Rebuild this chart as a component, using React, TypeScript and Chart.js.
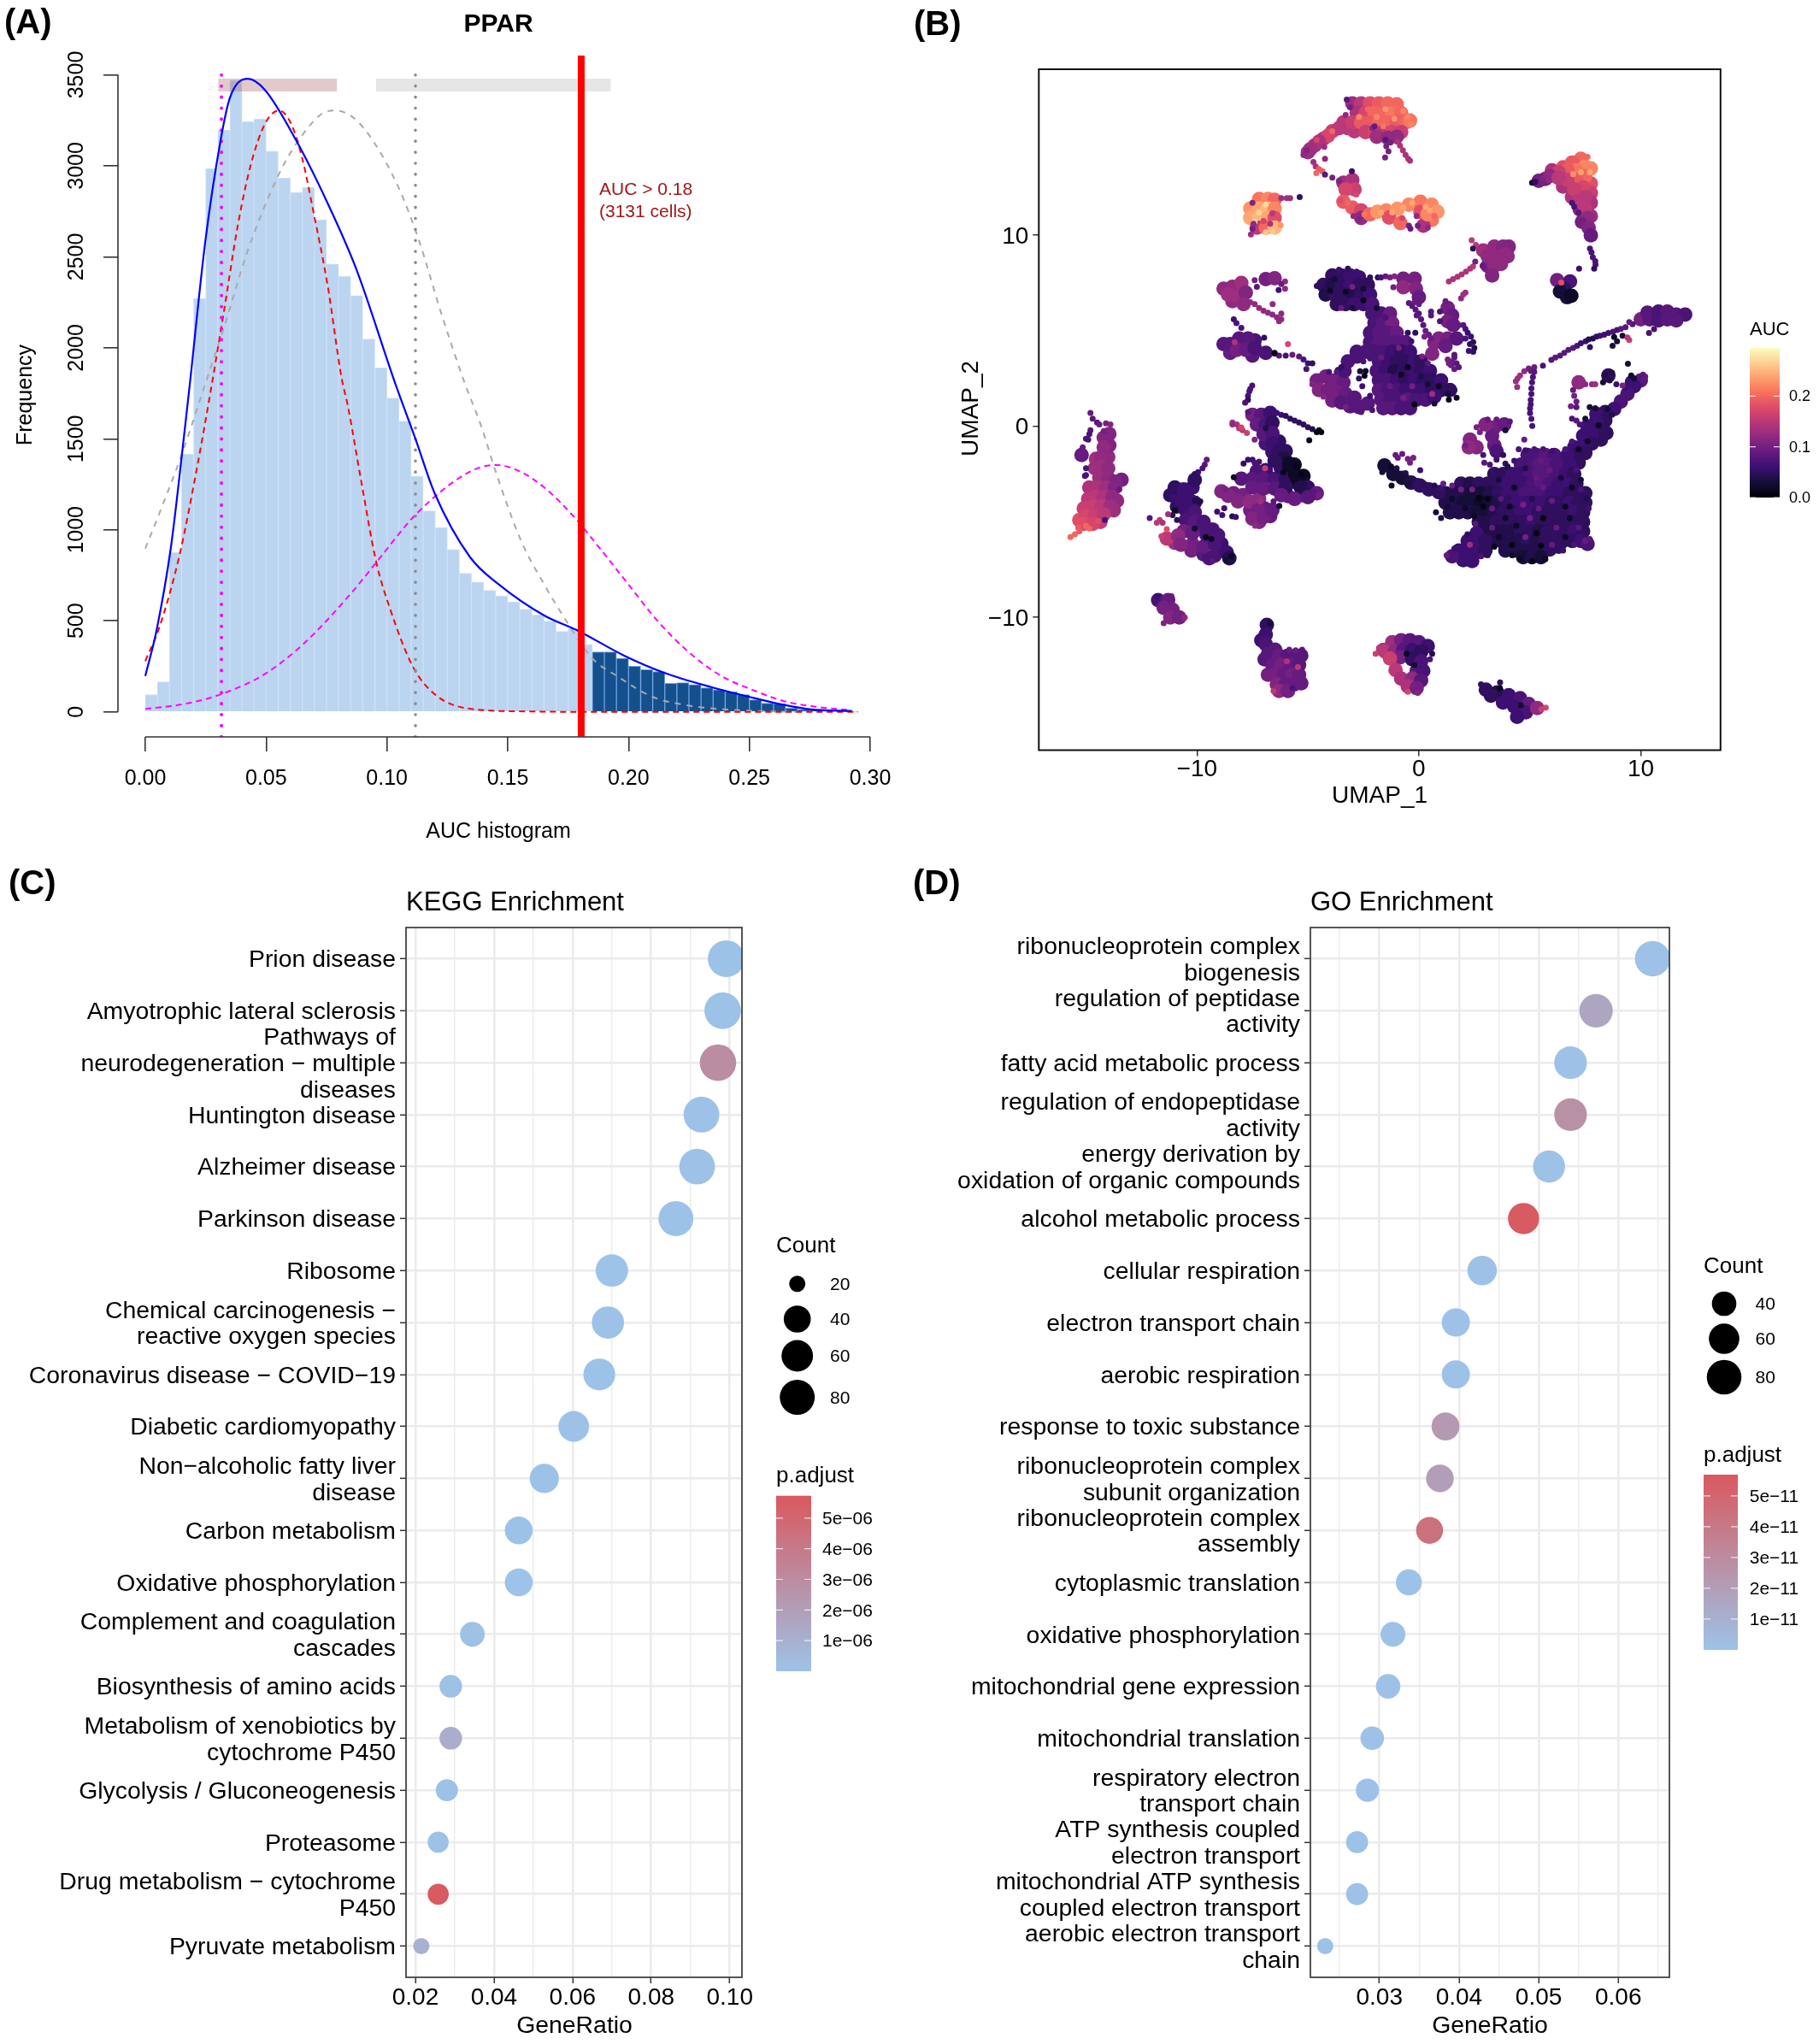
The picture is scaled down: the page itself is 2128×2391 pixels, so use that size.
import React, { useEffect, useRef } from 'react';
import { Chart, registerables } from 'chart.js';

Chart.register(...registerables);

const FONT = '"Liberation Sans", Arial, sans-serif';

// (A) histogram
const histBins = [0.0025,0.0075,0.0125,0.0175,0.0225,0.0275,0.0325,0.0375,0.0425,0.0475,0.0525,0.0575,0.0625,0.0675,0.0725,0.0775,0.0825,0.0875,0.0925,0.0975,0.1025,0.1075,0.1125,0.1175,0.1225,0.1275,0.1325,0.1375,0.1425,0.1475,0.1525,0.1575,0.1625,0.1675,0.1725,0.1775,0.1825,0.1875,0.1925,0.1975,0.2025,0.2075,0.2125,0.2175,0.2225,0.2275,0.2325,0.2375,0.2425,0.2475,0.2525,0.2575,0.2625,0.2675,0.2725,0.2775,0.2825,0.2875,0.2925];
const histCounts = [95,165,875,1415,2270,2985,3195,3470,3243,3257,3081,2932,2854,2881,2704,2460,2392,2287,2048,1890,1724,1597,1295,1104,1013,892,761,713,667,636,604,564,533,498,442,459,370,329,329,294,251,232,221,157,160,150,132,121,110,94,66,47,44,20,14,9,7,5,3];
const histXTicks = [0, 0.05, 0.1, 0.15, 0.2, 0.25, 0.3];
const histYTicks = [0, 500, 1000, 1500, 2000, 2500, 3000, 3500];

const blueX = [0,0.0047,0.0106,0.0153,0.0184,0.0248,0.0312,0.0351,0.0424,0.0495,0.0623,0.0753,0.0871,0.1036,0.1118,0.1197,0.1344,0.1462,0.1651,0.1792,0.198,0.2145,0.2345,0.2498,0.264,0.2757,0.2924];
const blueY = [197,451,905,1430,1798,2581,3143,3377,3478,3417,3143,2799,2440,1798,1500,1202,850,701,529,445,310,216,135,83,39,13,5];
const redX = [0,0.0059,0.0141,0.0212,0.0271,0.0324,0.0383,0.0436,0.0495,0.0554,0.0601,0.0648,0.0695,0.0754,0.0813,0.0837,0.0896,0.0955,0.1014,0.1108,0.1202,0.1344,0.16,0.18,0.295];
const redY = [279,468,858,1328,1766,2189,2674,3003,3230,3304,3238,3050,2752,2347,1830,1689,1249,827,562,247,92,17,2,0,0];
const grayX = [0,0.0059,0.0153,0.0247,0.0329,0.0424,0.0554,0.0636,0.073,0.0783,0.086,0.0943,0.1049,0.1131,0.1225,0.132,0.1392,0.145,0.1556,0.165,0.1743,0.185,0.1957,0.2098,0.224,0.2405,0.2523,0.27];
const grayY = [897,1093,1422,1798,2127,2534,2957,3143,3285,3304,3266,3136,2878,2596,2189,1813,1563,1320,937,702,498,294,193,83,36,13,5,0];
const magentaX = [0,0.0165,0.0318,0.0495,0.066,0.0849,0.0955,0.112,0.1344,0.145,0.1544,0.165,0.1786,0.1839,0.198,0.2121,0.2251,0.238,0.2522,0.264,0.2758,0.2923];
const magentaY = [16,44,99,208,380,647,819,1085,1320,1356,1325,1234,1054,968,733,498,326,200,116,60,31,9];

const xy = (xs: number[], ys: number[]) => xs.map((x, i) => ({ x, y: ys[i] }));

// (B) UMAP, [umap1, umap2, auc]
const coreTop = [[-3,16.9,.13],[-2.6,16.9,.15],[-2.2,16.9,.18],[-1.8,16.9,.19],[-1.4,16.9,.2],[-1,16.85,.2],[-2.8,16.4,.14],[-2.4,16.4,.17],[-2,16.4,.2],[-1.6,16.4,.2],[-1.2,16.4,.21],[-.8,16.4,.2],[-3.4,15.9,.15],[-3,15.9,.16],[-2.6,15.9,.19],[-2.2,15.9,.19],[-1.8,15.9,.2],[-1.4,15.9,.2],[-1,15.9,.19],[-.6,15.9,.2],[-.4,16,.21],[-2.4,15.4,.16],[-2,15.4,.17],[-1.6,15.4,.15],[-1.2,15.4,.17],[-.8,15.4,.16],[-1.9,15.15,.13],[-1.4,15.1,.12],[-1,15.15,.12],[-3.6,15.6,.15],[-4.1,15.2,.17],[-4.5,14.9,.14],[-4.9,14.5,.13],[-3.4,12.75,.13],[-3,12.9,.14],[-2.9,12.4,.16],[-3.3,12.4,.17],[-3.4,11.75,.19],[-3,11.45,.19],[-2.6,11.3,.17],[-2.6,10.9,.12],[-2.2,11.1,.2],[-1.87,11.23,.23],[-1.47,11.3,.22],[-.96,11.38,.23],[-.45,11.6,.22],[.07,11.75,.21],[.58,11.6,.22],[.84,11.23,.23],[.58,10.8,.21],[.2,10.5,.14],[.07,11.23,.18],[.39,11.1,.22],[-1.34,10.93,.18],[-.83,10.64,.2]];
const cellsTop = [[-3.25,17.1,.08],[-3.1,16.7,.1],[-3.3,16.3,.12],[-2.3,16.6,.2],[-1.9,16.2,.22],[-1.5,16.6,.23],[-1.1,16.1,.23],[-1.6,15.7,.21],[-2.1,15.6,.12],[-.7,16.5,.22],[-.5,16.2,.22],[-.35,15.8,.22],[-1.5,15,.08],[-2,15.7,.09],[-2.7,16.2,.22],[-.97,14.9,.14],[-.85,14.7,.14],[-.72,14.45,.14],[-.6,14.2,.14],[-.48,14,.14],[-.4,13.9,.14],[-1.28,14.85,.1],[-1.47,14.66,.1],[-1.37,14.4,.1],[-1.52,14.07,.1],[-5.2,14.2,.12],[-5.05,14.45,.11],[-4.6,15,.17],[-3.9,15.45,.2],[-4.75,13.84,.13],[-4.65,13.6,.14],[-4.5,13.47,.19],[-4.62,13.25,.2],[-4.35,13.35,.19],[-4.23,13.17,.08],[-4.23,14,.12],[-4.26,14.63,.13],[-3.9,13.02,.1],[-3.6,12.85,.11],[-3.02,13.35,.06],[-2.82,12.13,.17],[-3.53,11.83,.18],[-3.2,11.7,.2],[-2.95,11,.12],[-2.7,10.86,.11],[-2.45,11.1,.21],[-1.7,11.2,.24],[-1.2,11.2,.24],[-.7,11.45,.24],[-.3,11.7,.24],[.3,11.5,.24],[.5,11.3,.24],[-.45,10.5,.1],[-.38,10.34,.09],[-.05,10.5,.1],[.4,10.4,.12],[.7,11,.2],[-.1,11,.12],[-.75,10.9,.17]];
const coreYellow = [[-7.2,11.9,.21],[-6.8,11.9,.22],[-6.5,11.85,.2],[-7.6,11.4,.23],[-7.2,11.4,.24],[-6.8,11.4,.25],[-6.5,11.4,.22],[-7.6,10.9,.24],[-7.2,10.9,.25],[-6.8,10.9,.24],[-6.5,10.9,.18],[-7.3,10.4,.15],[-6.9,10.4,.2],[-6.5,10.4,.25]];
const cellsYellow = [[-6.2,11.95,.13],[-5.95,11.95,.13],[-5.8,11.95,.13],[-5.37,12,.05],[-6.23,10.52,.23],[-7.57,10.04,.13],[-7.5,10.34,.1],[-7.5,11.7,.11],[-7.2,11.2,.27],[-6.9,11.6,.27],[-7.4,10.7,.27],[-7,10.75,.17],[-6.6,11.15,.15],[-6.7,10.6,.14],[-7.45,10.6,.12],[-6.6,10.2,.26],[-6.9,10.15,.26]];
const coreTriangle = [[7.3,14,.2],[6.9,13.8,.19],[7.5,13.6,.22],[7.1,13.4,.21],[6.7,13.4,.19],[6.3,13.3,.16],[5.9,13.1,.12],[7.5,13.1,.2],[7.1,12.9,.19],[6.7,12.9,.16],[5.4,12.85,.1],[7.4,12.5,.17],[7,12.4,.16],[7.5,12,.15],[7.2,11.8,.15],[7.5,11.4,.15],[7.6,10.9,.12],[7.65,10.4,.11],[7.75,10,.09],[6.3,13,.15]];
const cellsTriangle = [[5.1,12.75,.03],[5.25,12.8,.05],[5.6,13,.11],[6.9,11.7,.07],[7,11.5,.07],[7.2,11.2,.08],[7.4,10.8,.1],[7.6,14.1,.2],[7.7,13.3,.24],[7.3,13.3,.24],[6.95,13.2,.23],[7.71,9.3,.07],[7.84,8.85,.07],[7.78,9.1,.07],[7.96,8.47,.07],[7.9,8.25,.05],[7.95,8.65,.07],[7.22,8.25,.06]];
const coreSmall = [[6.23,7.65,.1],[6.81,7.58,.07],[6.55,7.2,.05],[6.36,7.06,.03],[6.68,6.76,.03],[6.87,6.83,.02]];
const cellsSmall = [[6.42,7.53,.18]];
const coreMidRight = [[3.4,9.4,.12],[3.8,9.4,.11],[3.1,8.9,.12],[3.5,8.9,.12],[3.9,9,.12],[3.4,8.4,.12],[3.3,7.9,.11]];
const cellsMidRight = [[2.38,9.74,.15],[2.57,9.5,.15],[2.76,9.3,.13],[2.44,9.3,.05],[1.35,7.58,.14],[1.54,7.7,.14],[1.74,7.83,.14],[1.93,7.95,.14],[2.12,8.1,.14],[2.31,8.25,.14],[2.44,8.37,.15],[2.54,8.62,.1],[2.87,8.4,.09]];
const coreLeftC = [[-8.4,7.3,.12],[-8,7.5,.13],[-8.6,6.9,.13],[-8.2,6.8,.13],[-7.8,7,.11],[-7.9,6.4,.12],[-6.9,7.7,.1],[-6.5,7.75,.11]];
const cellsLeftC = [[-7.4,7.65,.1],[-7.3,7.3,.08],[-6.03,7.58,.12],[-6.03,7.2,.12],[-6.32,7.13,.06],[-7.6,6.5,.12],[-7.4,6.4,.12],[-7.2,6.2,.12],[-7,6.05,.12],[-6.8,5.95,.12],[-6.6,5.85,.12],[-6.4,5.7,.12],[-6.2,5.9,.12],[-6.2,5.6,.12],[-6.3,5.5,.12],[-6.59,6.4,.12],[-6.2,7.45,.09]];
const coreLeftBlob = [[-8.5,4.3,.08],[-8.1,4.6,.08],[-7.7,4.6,.08],[-8.2,4,.1],[-7.8,4,.09],[-7.4,4.1,.07],[-6.9,3.85,.07]];
const cellsLeftBlob = [[-6.5,3.8,.07],[-6.3,3.7,.08],[-6,3.7,.07],[-5.7,3.75,.09],[-5.4,3.65,.08],[-5.2,3.5,.07],[-5,3.3,.06],[-4.8,3.3,.05],[-8.34,5.6,.06],[-8.22,5.4,.07],[-8,5.16,.07],[-6.97,4.64,.05],[-6.5,3.85,.01],[-5.9,4.3,.17],[-5.07,3,.07],[-8.3,4.4,.14]];
const coreMiddle = [[-3.9,7.9,.05],[-3.5,7.9,.05],[-3.1,7.9,.06],[-2.7,7.8,.06],[-4.3,7.4,.05],[-3.9,7.4,.04],[-3.5,7.4,.05],[-3.1,7.4,.06],[-2.7,7.4,.05],[-2.3,7.4,.05],[-4.2,6.9,.04],[-3.8,6.9,.05],[-3.4,6.9,.05],[-3,6.9,.04],[-2.6,6.9,.05],[-2.2,6.9,.06],[-3.7,6.4,.05],[-3.3,6.4,.05],[-2.9,6.4,.06],[-2.5,6.4,.06],[-2.1,6.4,.07],[-2.1,5.9,.07],[-1.7,5.9,.07],[-1.3,5.9,.09],[-2,5.4,.07],[-1.6,5.4,.08],[-1.2,5.4,.1],[-2.2,4.9,.07],[-1.8,4.9,.08],[-1.4,4.9,.08],[-1,4.9,.09],[-2.2,4.4,.07],[-1.8,4.4,.08],[-1.4,4.4,.08],[-1,4.4,.08],[-.6,4.4,.08],[-2.8,3.9,.07],[-2.4,3.9,.07],[-2,3.9,.07],[-1.6,3.9,.07],[-1.2,3.9,.06],[-.8,3.9,.05],[-.4,3.9,.06],[-3.2,3.4,.07],[-2.8,3.65,.07],[-1.8,3.4,.07],[-1.4,3.4,.06],[-1,3.4,.05],[-.6,3.4,.05],[-.2,3.4,.06],[.1,3.4,.05],[-1.9,2.9,.07],[-1.5,2.9,.06],[-1.1,2.9,.04],[-.7,2.9,.05],[-.3,2.9,.06],[.1,2.9,.05],[.5,2.9,.06],[-1.8,2.4,.07],[-1.4,2.4,.07],[-1,2.4,.06],[-.6,2.4,.05],[-.2,2.4,.06],[.2,2.4,.05],[.6,2.4,.05],[1,2.4,.06],[-1.8,1.9,.08],[-1.4,1.9,.07],[-1,1.9,.07],[-.6,1.9,.06],[-.2,1.9,.06],[.2,1.9,.06],[.6,1.9,.05],[1,1.9,.05],[1.4,1.9,.05],[-1.7,1.4,.08],[-1.3,1.4,.07],[-.9,1.4,.07],[-.5,1.4,.08],[-.1,1.4,.07],[.3,1.4,.07],[.7,1.55,.06],[-1.6,.95,.08],[-1.2,.95,.08],[-.8,.95,.07],[-.4,.95,.07],[-4.6,2.4,.1],[-4.2,2.6,.1],[-3.8,2.4,.1],[-3.4,2.3,.09],[-4.5,1.9,.11],[-4.1,1.9,.1],[-3.7,1.8,.1],[-3.3,1.7,.09],[-2.9,1.5,.08],[-3.9,1.35,.1],[-3.5,1.25,.08],[-3.1,1.05,.08],[-2.7,1,.08],[-2.3,1.2,.08],[-3.35,2.9,.07]];
const cellsMiddle = [[-3.6,8.2,.06],[-3.2,8.25,.05],[-2.8,8.1,.06],[-4.6,7.35,.05],[-4,7.1,.02],[-3.3,7.05,.02],[-2.5,6.6,.01],[-3,6.2,.03],[-3.5,6.2,.09],[-2.2,7.8,.05],[-1.85,7.8,.05],[-1.9,6.2,.03],[-1.5,5.7,.07],[-.9,4.1,.1],[-1.7,3.6,.09],[-.5,3.1,.01],[-.8,2.7,.02],[.1,2.6,.04],[.4,2.2,.03],[.9,2.1,.02],[1.3,1.7,.03],[1.6,1.9,.05],[1.7,1.5,.02],[1.35,1.4,.01],[.7,1.2,.03],[-.2,1.15,.01],[-.7,1.5,.1],[-.3,2.1,.1],[.6,1.7,.13],[-1.3,2.1,.09],[-2.65,2.88,.03],[-2.4,2.9,.02],[-2.45,2.65,.01],[-2.7,2.5,.05],[-2.5,3.4,.07],[-2.2,3.55,.07],[-3.5,3.1,.05],[-3.65,2.95,.05],[-2.55,2.1,.06],[-2.2,1.6,.06],[-4.8,2.2,.11],[-4.3,1.55,.11],[-3.3,1,.1],[-2.6,.75,.08],[-2.1,.85,.07],[-4.05,2.85,.07],[-3.7,2.85,.08],[-2.5,7.2,.03],[-3.8,7.7,.03],[-3,7.3,.1]];
const coreNetwork = [[-.7,7.73,.1],[-.19,7.73,.1],[-.7,7.28,.12],[-.13,7.2,.11],[0,6.76,.09],[1.3,6.2,.1],[1.5,5.8,.09],[1.3,5.5,.1],[1.55,5.3,.09],[.9,4.6,.11],[1.3,4.6,.1],[1.7,4.6,.08],[.6,3.8,.11],[.7,4.37,.11],[1.2,4.2,.09]];
const cellsNetwork = [[-1.7,7.8,.07],[-1.5,7.85,.09],[-1.3,7.8,.1],[-1.1,7.85,.11],[-1.15,7.28,.1],[-.45,6.45,.08],[-.3,6.3,.08],[-.15,6.1,.08],[0,5.9,.08],[.1,5.6,.08],[.2,5.3,.08],[.3,5,.09],[.45,4.8,.09],[.55,4.6,.09],[-.2,6.5,.09],[0,6.4,.09],[-.1,5.8,.08],[.25,4.7,.1],[1.9,6.7,.12],[2,6.9,.13],[2.1,7,.13],[.95,6,.07],[1.2,6.55,.09],[.55,6,.08],[.55,5.8,.08],[.95,5.5,.07],[1.8,5.3,.09],[2,5.3,.08],[2.1,5.1,.07],[2.2,4.9,.06],[2.35,4.7,.06],[2.45,4.4,.05],[2.5,4.1,.04],[2.45,3.9,.05],[2.25,3.95,.06],[2.3,4.3,.05],[2.1,4.6,.07],[1.6,3.6,.08],[1.7,3.3,.08],[1.6,3,.09],[1.45,3.2,.09],[1.8,3.1,.08],[1.5,3.4,.09],[1.35,3.3,.1],[1.6,3.75,.08],[1.3,3.5,.1],[-.5,4.9,.05],[-.16,4.9,.05],[-.34,4.45,.06],[.4,3.3,.08],[.15,3.65,.1]];
const cellsStrand = [[4.43,2.06,.13],[4.37,2.36,.13],[4.45,2.5,.13],[4.56,2.66,.13],[4.75,2.88,.12],[4.95,3.03,.1],[5.2,3.1,.09],[5.05,2.9,.09],[5.2,2.85,.08],[5.14,2.58,.07],[5.1,2.3,.07],[5.07,1.99,.07],[5.07,1.7,.07],[5.04,1.39,.07],[5.04,1.15,.07],[5.01,.94,.07],[5.01,.69,.07],[5.07,.39,.07],[5.11,.02,.07],[5.59,3.18,.07],[5.97,3.48,.08],[6.15,3.6,.08],[6.36,3.7,.08],[6.55,3.85,.08],[6.74,4,.08],[6.95,4.1,.08],[7.13,4.22,.07],[7.3,4.35,.06],[7.51,4.45,.06],[7.65,4.55,.04],[7.84,4.6,.04],[8,4.7,.05],[8.16,4.74,.06],[8.35,4.8,.06],[8.54,4.89,.06],[8.75,4.95,.07],[8.93,5.04,.07],[9.1,5.1,.08],[9.31,5.19,.08],[9.63,5.34,.08],[7.71,4.15,.05],[8.73,4.22,.03],[8.93,4.45,.03],[9.18,4.74,.03],[9.48,4.52,.16],[9.4,4.65,.15],[8.8,4.67,.02],[9.48,5.46,.09],[10.37,4.89,.07],[10.6,5.09,.07],[9.42,3.28,.03]];
const coreArm = [[10,5.6,.1],[10.4,5.6,.08],[10.3,5.95,.08],[10.8,6,.07],[11.2,6,.08],[10.8,5.55,.07],[11.2,5.6,.08],[11.6,5.85,.08],[12,5.85,.07],[11.6,5.55,.08],[10,2.4,.08],[9.7,2.1,.06],[9.4,1.7,.07],[9.1,1.3,.07],[8.8,.9,.06],[8.4,.3,.05],[8,.3,.06],[7.6,0,.06],[8.2,-.2,.05],[7.8,-.4,.06],[7.4,-.5,.06],[7.8,-.9,.05],[7.4,-1,.06],[7,-1.1,.06],[7.5,-1.4,.05],[7.1,-1.5,.05],[6.7,-1.5,.06],[7.2,-1.9,.05],[6.8,-2,.06],[6.5,-1.9,.06],[7.2,2.3,.12],[8.54,2.66,.05]];
const cellsArm = [[10.2,2.6,.09],[10.1,2.7,.08],[9.57,2.66,.02],[9.7,2.5,.03],[9.3,2.05,.06],[8.5,.9,.03],[8.7,.6,.04],[7.5,2.2,.12],[7.8,2.2,.12],[7.95,2.2,.13],[6.95,1.9,.09],[7,1.6,.1],[7.1,1.3,.09],[6.85,1.05,.1],[7.1,1,.08],[7.7,1,.03],[7.95,.95,.03],[8.3,2.3,.03],[8.4,2.7,.04],[8.7,2.8,.04],[8.6,2.4,.04],[8.9,2.2,.06],[9.18,2.13,.1],[6.9,.4,.07],[7.1,.3,.08],[7.25,.1,.07],[7.5,.4,.03],[8.1,.05,.02],[7.6,-.8,.02],[7.2,-1.2,.02],[6.6,-1.2,.07],[6.9,-.8,.07]];
const coreAbove = [[3.41,-.06,.1],[3.3,-.5,.09],[3.4,-1,.09],[3.5,-1.3,.07],[3,.1,.11],[3.85,.1,.09],[2.3,-.7,.11],[2.6,-1.1,.11],[2.25,-1.1,.12]];
const cellsAbove = [[2.1,-1,.1],[2.75,-.3,.1],[2.6,-.05,.1],[3.1,.35,.09],[3.5,.35,.09],[4.1,.25,.08],[3.9,-.2,.03],[2.9,-1.5,.07],[2.95,-1.9,.08],[3.2,-2,.07],[3.5,-1.75,.06],[3.8,-1.5,.05],[3.9,-1.95,.05],[4,-2.1,.04],[4.75,-.7,.09],[4.5,-1.2,.07],[4.3,-1.8,.06]];
const coreBig = [[4.9,-1.5,.07],[5.3,-1.5,.07],[5.7,-1.5,.08],[6.1,-1.5,.07],[4.6,-2,.07],[5,-2,.07],[5.4,-2,.08],[5.8,-2,.08],[6.2,-2,.07],[3.4,-2.5,.05],[3.8,-2.5,.05],[4.2,-2.5,.06],[4.6,-2.5,.06],[5,-2.5,.07],[5.4,-2.5,.08],[5.8,-2.5,.08],[6.2,-2.5,.07],[6.6,-2.5,.06],[7,-2.5,.05],[1.9,-3,.05],[2.3,-3,.04],[2.7,-3,.05],[3.1,-3,.05],[3.5,-3,.05],[3.9,-3,.06],[4.3,-3,.06],[4.7,-3,.06],[5.1,-3,.07],[5.5,-3,.08],[5.9,-3,.07],[6.3,-3,.06],[6.7,-3,.06],[7.1,-3,.05],[1.2,-3.5,.04],[1.6,-3.5,.04],[2,-3.5,.04],[2.4,-3.5,.03],[2.8,-3.5,.03],[3.2,-3.5,.04],[3.6,-3.5,.05],[4,-3.5,.06],[4.4,-3.5,.06],[4.8,-3.5,.07],[5.2,-3.5,.07],[5.6,-3.5,.07],[6,-3.5,.06],[6.4,-3.5,.06],[6.8,-3.5,.05],[7.2,-3.5,.05],[7.5,-3.5,.05],[1.2,-4,.04],[1.6,-4,.04],[2,-4,.03],[2.4,-4,.03],[2.8,-4,.02],[3.2,-4,.03],[3.6,-4,.04],[4,-4,.05],[4.4,-4,.06],[4.8,-4,.06],[5.2,-4,.06],[5.6,-4,.06],[6,-4,.05],[6.4,-4,.05],[6.8,-4,.06],[7.2,-4,.05],[7.5,-4,.05],[1.4,-4.5,.04],[1.8,-4.5,.04],[2.2,-4.5,.04],[2.6,-4.5,.03],[3,-4.5,.03],[3.4,-4.5,.04],[3.8,-4.5,.05],[4.2,-4.5,.05],[4.6,-4.5,.06],[5,-4.5,.06],[5.4,-4.5,.05],[5.8,-4.5,.05],[6.2,-4.5,.05],[6.6,-4.5,.05],[7,-4.5,.06],[7.4,-4.5,.05],[2.7,-5,.04],[3.1,-5,.04],[3.5,-5,.05],[3.9,-5,.05],[4.3,-5,.05],[4.7,-5,.05],[5.1,-5,.06],[5.5,-5,.05],[5.9,-5,.05],[6.3,-5,.05],[6.7,-5,.05],[7.1,-5,.05],[7.4,-5,.05],[3,-5.5,.04],[3.4,-5.5,.04],[3.8,-5.5,.04],[4.2,-5.5,.04],[4.6,-5.5,.05],[5,-5.5,.05],[5.4,-5.5,.04],[5.8,-5.5,.05],[6.2,-5.5,.05],[6.6,-5.5,.05],[7,-5.5,.06],[7.4,-5.5,.05],[3.3,-6,.04],[3.7,-6,.04],[4.1,-6,.04],[4.5,-6,.04],[4.9,-6,.05],[5.3,-6,.04],[5.7,-6,.05],[6.1,-6,.05],[6.5,-6,.05],[6.9,-6,.05],[7.3,-6,.06],[7.6,-6.15,.07],[3.9,-6.5,.04],[4.3,-6.5,.04],[4.7,-6.5,.04],[5.1,-6.5,.04],[5.5,-6.5,.04],[5.9,-6.45,.05],[6.3,-6.3,.05],[4.7,-6.85,.03],[5.1,-6.85,.04],[5.5,-6.85,.03],[-1.55,-2.05,.03],[-1.15,-2.5,.03],[-.75,-2.7,.03],[-.35,-2.95,.04],[.05,-3.1,.05],[.45,-3.3,.05],[.9,-3.45,.05],[2.6,-5.6,.06],[2.2,-6,.06],[2.6,-6.1,.06],[3,-6,.05],[1.8,-6.5,.06],[2.2,-6.6,.06],[2.6,-6.6,.06],[3,-6.5,.05],[2,-7,.06],[2.4,-7.05,.06],[1.5,-6.8,.07]];
const cellsBig = [[5.2,-1.2,.07],[4.8,-1.25,.06],[5.6,-1.2,.07],[6,-1.3,.06],[5.5,-1.8,.09],[5.9,-2.3,.09],[5.3,-2.7,.09],[5.6,-3.2,.09],[5.1,-3.8,.04],[4.3,-3.2,.02],[3.6,-2.8,.03],[4.8,-2.2,.04],[6.4,-2.7,.03],[6.9,-3.2,.02],[7.3,-2.8,.03],[7.1,-2.3,.07],[7.3,-3.3,.07],[7.55,-3.8,.04],[7.65,-4.3,.06],[6,-3.9,.09],[6.6,-4.2,.02],[5.4,-4.3,.09],[4.7,-4.1,.1],[4.1,-4.2,.02],[3.7,-3.8,.08],[3.1,-3.8,.01],[2.7,-3.75,.01],[2.9,-4.2,.01],[3.3,-4.3,.09],[2.4,-3.3,.1],[1.9,-3.3,.1],[1.5,-3.8,.02],[1.3,-4.2,.03],[2.1,-4.3,.02],[2.5,-4.7,.02],[3.9,-4.8,.02],[4.4,-5.2,.02],[5,-4.8,.1],[5.6,-4.8,.01],[6.2,-5.3,.09],[6.8,-4.8,.02],[7.2,-5.3,.08],[3.3,-5.3,.09],[3.6,-5.8,.02],[4.2,-6.2,.01],[4.8,-5.8,.1],[5.3,-5.6,.01],[5.5,-6.25,.01],[6,-6.2,.09],[6.6,-5.8,.02],[7,-6.2,.07],[7.5,-6,.09],[7.7,-5.9,.08],[5.1,-7.05,.01],[4.55,-6.95,.02],[5.7,-6.95,.02],[4.2,-6.75,.02],[6.5,-6.5,.06],[3.4,-6.3,.01],[-1.6,-1.95,.03],[-1.25,-2.1,.02],[-1,-2.2,.04],[-1.65,-2.4,.03],[-.6,-2.45,.04],[-.5,-3,.03],[-.05,-2.85,.05],[.3,-3.05,.05],[.7,-3.1,.04],[1,-3.2,.06],[1.1,-3,.09],[1.5,-3.1,.09],[.06,-2.3,.06],[-.4,-1.9,.1],[-.25,-1.65,.1],[-.5,-1.7,.1],[-.75,-1.45,.09],[-1.05,-1.5,.09],[-.95,-1.65,.09],[-1.23,-3.1,.02],[.77,-4.5,.03],[1,-4.8,.04],[2.19,-5.65,.05],[2.55,-5.1,.08],[1.25,-6.75,.09],[1.6,-6.4,.06],[2.3,-6.2,.13],[2.8,-6.8,.07],[3.1,-6.75,.05]];
const coreSpindle = [[-14.2,-.6,.11],[-14.2,-1.1,.12],[-14.3,-1.6,.12],[-14.3,-2.1,.13],[-14,-2.2,.12],[-14.4,-2.7,.13],[-14,-2.7,.12],[-13.7,-2.9,.11],[-14.5,-3.2,.14],[-14.1,-3.2,.13],[-13.7,-3.2,.11],[-14.6,-3.7,.15],[-14.2,-3.7,.14],[-13.8,-3.7,.12],[-14.7,-4.2,.16],[-14.3,-4.2,.15],[-13.9,-4.2,.13],[-15,-4.7,.17],[-14.6,-4.7,.16],[-14.2,-4.6,.15],[-15.1,-5.1,.18],[-14.7,-5.1,.17],[-15.2,-1.5,.09]];
const cellsSpindle = [[-15.7,-5.8,.2],[-15.5,-5.65,.2],[-15.3,-5.5,.19],[-15.35,-5.3,.19],[-14.8,.7,.09],[-14.7,.4,.08],[-14.5,.2,.08],[-14.4,.1,.09],[-14.1,.15,.1],[-13.9,.1,.11],[-14.8,-.2,.08],[-14.85,-.4,.07],[-15,-.65,.07],[-14.9,-.7,.07],[-15.15,-1.1,.09],[-15,-2.2,.07],[-15,-2.55,.07],[-15.05,-2.6,.07],[-14.2,-.25,.1],[-14.85,-5.35,.2],[-15,-5.2,.2],[-14.45,-4.95,.18],[-14.15,-4.9,.07],[-13.5,-3.3,.09]];
const coreTen = [[-11,-3.2,.05],[-10.6,-3.3,.06],[-10.2,-3.2,.06],[-10.1,-2.8,.05],[-10.7,-3.9,.06],[-10.3,-3.9,.06],[-10.5,-4.4,.06],[-10.1,-4.5,.07],[-10.5,-4.9,.07],[-10.1,-5,.08],[-9.7,-5,.07],[-10.6,-5.5,.1],[-11.36,-5.87,.15],[-10.85,-5.72,.12],[-10.2,-6.17,.1],[-10.72,-6.2,.11],[-9.7,-6.3,.09],[-9.2,-6.17,.07],[-9.57,-5.7,.07],[-9.05,-5.7,.07],[-9.2,-6.77,.07],[-8.66,-6.6,.06],[-8.54,-6.9,.04],[-9.7,-5.27,.07],[-10.2,-5.6,.09]];
const cellsTen = [[-9.56,-1.75,.09],[-9.65,-2,.08],[-9.75,-2.2,.07],[-9.95,-2.4,.06],[-10.1,-2.5,.05],[-10.1,-3.9,.04],[-11,-4.4,.02],[-11.1,-4.65,.04],[-11.3,-4.6,.13],[-10.9,-4.9,.05],[-12.13,-4.8,.08],[-11.81,-5.05,.15],[-11.68,-4.9,.15],[-11.55,-5.05,.14],[-11.36,-5.38,.18],[-9.85,-3.93,.04],[-10.1,-5.35,.03],[-9.6,-5.8,.01],[-9.35,-5.9,.02],[-8.45,-6.8,.02],[-8.7,-7,.03],[-9.3,-7.05,.08],[-11.6,-5.75,.16]];
const coreCenter = [[-7.5,.6,.1],[-7.1,.6,.08],[-6.7,.7,.06],[-7.3,.1,.09],[-6.9,.1,.07],[-6.6,.2,.05],[-7,-.4,.08],[-6.6,-.35,.07],[-6.6,-.9,.06],[-6.3,-1.3,.05],[-6.1,-1.7,.04],[-5.9,-1.9,.03],[-6.5,-1.8,.05],[-5.7,-2.4,.02],[-5.6,-2.9,.03],[-8,-2.74,.08],[-7.5,-2.74,.08],[-7,-2.74,.08],[-6.5,-2.74,.07],[-6,-2.74,.05],[-5.46,-2.74,.02],[-7.5,-3.19,.09],[-7,-3.26,.09],[-6.5,-3.26,.08],[-6,-3.19,.05],[-5.33,-3.19,.04],[-6.2,-3.6,.09],[-5.6,-3.8,.09],[-5,-3.7,.08],[-6.23,-2.15,.05],[-5.84,-2,.02],[-5.58,-2.5,.02],[-8.6,-3.64,.11],[-8.15,-3.93,.11],[-7.64,-3.93,.12],[-7.25,-4.38,.1],[-7.5,-4.83,.11],[-7,-4.75,.1],[-6.6,-4.38,.09]];
const cellsCenter = [[-7.51,2.13,.07],[-7.6,1.95,.07],[-7.64,1.83,.07],[-7.7,1.6,.07],[-7.7,1.39,.05],[-7.83,1.24,.07],[-6.4,.7,.06],[-6.2,.6,.06],[-6,.55,.05],[-5.8,.4,.05],[-5.6,.3,.05],[-5.4,.2,.05],[-5.2,.1,.05],[-5,-.05,.05],[-4.8,-.15,.04],[-4.6,-.3,.01],[-4.4,-.3,.01],[-4.5,-.2,.01],[-4.94,-.73,.01],[-8.4,.2,.13],[-8.2,.1,.14],[-8.1,-.1,.14],[-7.95,-.2,.15],[-7.75,-.35,.16],[-8,-.06,.17],[-8.4,.1,.12],[-7.9,-1.95,.05],[-7.7,-1.75,.06],[-7.5,-1.75,.06],[-7.2,-1.85,.07],[-7.4,-1.9,.07],[-6.93,-2.2,.16],[-8.34,-2.66,.02],[-7.13,-3.93,.13],[-7.38,-5.2,.12],[-6.29,-4.16,.03],[-6.55,-3.93,.08],[-4.5,-3.6,.1],[-4.75,-3.45,.08],[-9.09,-4.47,.06],[-8.77,-4.29,.06],[-8.86,-4.65,.06],[-8.41,-4.71,.04],[-8.25,-4.75,.06],[-6.1,-2.4,.01],[-5.5,-2.1,.01],[-5.3,-2.5,.01],[-8.7,-3.3,.1],[-8,-3.4,.1],[-7.4,-.7,.11],[-7.7,.75,.08],[-6.9,-.1,.04]];
const coreIsland = [[-11.75,-9.1,.07],[-11.3,-9.1,.09],[-11.5,-9.5,.1],[-11.1,-9.6,.1],[-11.2,-10,.11],[-10.8,-10,.1]];
const cellsIsland = [[-10.55,-10,.12],[-11.5,-10.3,.11],[-11.15,-8.9,.09],[-11.8,-8.9,.06]];
const coreFoot = [[-6.85,-10.4,.05],[-6.9,-10.9,.06],[-6.9,-11.4,.07],[-6.48,-11.69,.08],[-6.8,-11.9,.08],[-6.7,-12,.08],[-6.3,-12,.09],[-5.9,-12,.08],[-5.55,-12,.08],[-6.6,-12.5,.09],[-6.2,-12.5,.1],[-5.8,-12.5,.09],[-5.4,-12.5,.08],[-6.5,-13,.1],[-6.1,-13,.09],[-5.7,-13,.1],[-5.4,-13,.09],[-6.4,-13.5,.11],[-6,-13.5,.09],[-5.6,-13.5,.09],[-6.3,-13.85,.12],[-5.9,-13.85,.1]];
const cellsFoot = [[-5.84,-11.69,.09],[-5.55,-11.73,.09],[-5.26,-11.69,.08],[-6.55,-13.85,.15],[-6.7,-10.3,.03],[-5.45,-12.6,.15],[-5.95,-12.3,.14],[-5.7,-13.7,.07]];
const coreTri = [[-1.6,-11.7,.14],[-1.2,-11.3,.13],[-.8,-11.2,.1],[-.4,-11.2,.08],[0,-11.3,.08],[.4,-11.5,.06],[-1.5,-11.8,.15],[-1.1,-11.8,.12],[-.7,-11.7,.08],[-.3,-11.7,.06],[.1,-11.8,.05],[-.85,-12.1,.1],[-.3,-12.2,.05],[.1,-12.3,.07],[-1.3,-12.15,.16],[-1.05,-12.75,.15],[-.1,-12.8,.08],[.2,-12.8,.07],[-.8,-13.2,.14],[-.3,-13.2,.12],[.1,-13.3,.08],[-.5,-13.6,.14],[-.1,-13.7,.1]];
const cellsTri = [[-1.95,-11.9,.16],[-1.8,-11.6,.15],[-.5,-13.9,.17],[-.05,-13.95,.11],[.6,-11.9,.04],[.5,-12.2,.07],[-.55,-11.9,.02],[-.2,-12.5,.03]];
const coreTail = [[3.02,-13.78,.05],[3.53,-13.93,.04],[4.05,-14.08,.06],[4.56,-14.23,.07],[4.95,-14.53,.09],[4.3,-14.67,.06],[4.82,-14.97,.07],[4.43,-15.2,.06],[5.33,-14.75,.12],[3.79,-14.45,.06],[3.25,-14.1,.05]];
const cellsTail = [[3.66,-13.4,.05],[5.72,-14.72,.17],[5.52,-14.8,.16],[2.8,-13.5,.05],[3.65,-13.7,.01],[4.6,-14.6,.03]];
// second pass over the picture, points that widen the clusters
const coreWiden = [[-2.9,15.45,.15],[-3.2,15.6,.15],[-3.9,15.45,.16],[-4.3,15.05,.15],[-4.7,14.7,.14],[-5,14.35,.13],[6.5,13.55,.18],[6,13.4,.14],[5.7,12.95,.1],[6.5,12.55,.14],[6.9,12,.14],[7.75,12.7,.18],[7.75,13.5,.22],[7.75,12.2,.16],[7.75,11.7,.14],[7.25,11.35,.11],[7.75,11,.13],[7.35,10.7,.1],[4.05,9.4,.11],[4,8.9,.12],[2.9,9.2,.13],[3.7,8.5,.12],[3.1,8.4,.1],[-8.8,7.2,.12],[-8.4,6.55,.12],[-8.8,4.3,.08],[-7.4,4.5,.07],[-8.5,3.85,.09],[-7.5,3.7,.08],[-6.9,-.9,.07],[-6.3,-.8,.05],[-6,-1.3,.05],[-6.6,-1.35,.06],[-5.6,-2,.02],[-5.2,-2.6,.02],[-5.2,-3,.03],[-6.9,-2.3,.06],[-7.3,-2.35,.07],[-5,-3.2,.05],[-4.6,-3.5,.09],[-5.3,-3.6,.09],[-5.9,-3.65,.09],[-7.9,-3.6,.1],[-7.2,-3.8,.12],[-8.9,-3.4,.11],[-8.35,-3.5,.1],[-7.6,-4.4,.1],[-6.95,-4.3,.09],[-7.2,-5,.11],[-6.7,-4.7,.09],[-11.2,-3.6,.05],[-10.9,-3.6,.06],[-10.9,-4.2,.05],[-10.1,-4,.05],[-11,-6.1,.13],[-10.25,-6.5,.1],[-9.7,-6.7,.08],[-9.3,-5.4,.07],[-8.9,-6.15,.06],[-9.45,-6.9,.07],[-14.85,-3.2,.14],[-13.4,-2.8,.1],[-14.9,-3.8,.15],[-13.6,-3.9,.12],[-15.1,-4.3,.16],[-13.75,-4.4,.13],[-15.3,-4.9,.18],[-14.35,-5,.16],[-14.6,-2.2,.13],[-14.55,-1.7,.13],[-14,-1.6,.12],[-13.95,-1,.11],[-13.95,-.4,.11],[-7.1,-11.2,.06],[-6.95,-12.2,.08],[-6.8,-13,.1],[-5.3,-13.45,.09],[-5.3,-12,.08],[-.8,-11.65,.09],[9.6,2.3,.06],[8.4,.75,.05],[8,.65,.06],[8.45,-.35,.05],[8.2,-.7,.05]];

const umapCore = [...coreWiden,...coreTop,...coreYellow,...coreTriangle,...coreSmall,...coreMidRight,...coreLeftC,...coreLeftBlob,...coreMiddle,...coreNetwork,...coreArm,...coreAbove,...coreBig,...coreSpindle,...coreTen,...coreCenter,...coreIsland,...coreFoot,...coreTri,...coreTail];
const umapCells = [...cellsTop,...cellsYellow,...cellsTriangle,...cellsSmall,...cellsMidRight,...cellsLeftC,...cellsLeftBlob,...cellsMiddle,...cellsNetwork,...cellsStrand,...cellsArm,...cellsAbove,...cellsBig,...cellsSpindle,...cellsTen,...cellsCenter,...cellsIsland,...cellsFoot,...cellsTri,...cellsTail];
const umapTicks = [-10, 0, 10];
const aucTicks = [0, 0.1, 0.2];

// (C) KEGG
const keggTerms = [['Prion disease'],['Amyotrophic lateral sclerosis'],['Pathways of','neurodegeneration − multiple','diseases'],['Huntington disease'],['Alzheimer disease'],['Parkinson disease'],['Ribosome'],['Chemical carcinogenesis −','reactive oxygen species'],['Coronavirus disease − COVID−19'],['Diabetic cardiomyopathy'],['Non−alcoholic fatty liver','disease'],['Carbon metabolism'],['Oxidative phosphorylation'],['Complement and coagulation','cascades'],['Biosynthesis of amino acids'],['Metabolism of xenobiotics by','cytochrome P450'],['Glycolysis / Gluconeogenesis'],['Proteasome'],['Drug metabolism − cytochrome','P450'],['Pyruvate metabolism']];
const keggRatio = [.0991,.0982,.097,.0928,.0917,.0863,.07,.069,.0668,.0603,.0528,.0463,.0463,.0345,.029,.029,.028,.0258,.0258,.0215];
const keggCount = [92,91,90,86,85,80,65,64,62,56,49,43,43,32,27,27,26,24,24,20];
const keggP = [.03e-6,.03e-6,2.9e-6,.05e-6,.05e-6,.03e-6,.02e-6,.05e-6,.03e-6,.05e-6,.03e-6,.03e-6,.02e-6,.1e-6,.1e-6,1.2e-6,.1e-6,.05e-6,5.7e-6,1e-6];
const keggXTicks = [.02,.03,.04,.05,.06,.07,.08,.09,.1];
const keggXLabeled = [.02,.04,.06,.08,.1];
const keggSizeLegend = [20,40,60,80];
const keggPTicks = [1e-6,2e-6,3e-6,4e-6,5e-6];
const keggPLabels = ['1e−06','2e−06','3e−06','4e−06','5e−06'];

// (D) GO
const goTerms = [['ribonucleoprotein complex','biogenesis'],['regulation of peptidase','activity'],['fatty acid metabolic process'],['regulation of endopeptidase','activity'],['energy derivation by','oxidation of organic compounds'],['alcohol metabolic process'],['cellular respiration'],['electron transport chain'],['aerobic respiration'],['response to toxic substance'],['ribonucleoprotein complex','subunit organization'],['ribonucleoprotein complex','assembly'],['cytoplasmic translation'],['oxidative phosphorylation'],['mitochondrial gene expression'],['mitochondrial translation'],['respiratory electron','transport chain'],['ATP synthesis coupled','electron transport'],['mitochondrial ATP synthesis','coupled electron transport'],['aerobic electron transport','chain']];
const goRatio = [.0643,.0572,.054,.054,.0513,.0481,.0429,.0396,.0396,.0383,.0376,.0363,.0337,.0317,.0311,.0291,.0285,.0272,.0272,.0232];
const goCount = [84,74,70,70,67,63,56,51,51,50,49,47,44,41,40,38,37,35,35,30];
const goP = [.05e-11,1.6e-11,.05e-11,2.7e-11,.05e-11,5.6e-11,.05e-11,.05e-11,.05e-11,2.3e-11,2e-11,4.4e-11,.05e-11,.05e-11,.05e-11,.05e-11,.05e-11,.05e-11,.05e-11,.05e-11];
const goXTicks = [.025,.03,.035,.04,.045,.05,.055,.06,.065];
const goXLabeled = [.03,.04,.05,.06];
const goSizeLegend = [40,60,80];
const goPTicks = [1e-11,2e-11,3e-11,4e-11,5e-11];
const goPLabels = ['1e−11','2e−11','3e−11','4e−11','5e−11'];

const rowIndex = keggRatio.map((_, i) => i);

const magmaStops = ['#000004','#140e36','#3b0f70','#641a80','#8c2981','#b73779','#de4968','#f7705c','#fe9f6d','#fecf92','#fcfdbf'];
const AUC_TOP = 0.295;

const rgb = (h: string) => [1, 3, 5].map((i) => parseInt(h.slice(i, i + 2), 16));
const mix = (a: string, b: string, t: number) => {
  const ca = rgb(a);
  const cb = rgb(b);
  const c = ca.map((v, i) => Math.round(v + (cb[i] - v) * t));
  return `rgb(${c[0]},${c[1]},${c[2]})`;
};
const magma = (auc: number) => {
  const f = Math.min(Math.max(auc / AUC_TOP, 0), 1) * (magmaStops.length - 1);
  const i = Math.min(Math.floor(f), magmaStops.length - 2);
  return mix(magmaStops[i], magmaStops[i + 1], f - i);
};

const P_LOW = '#9dc3e8';
const P_HIGH = '#d9595f';

const text = (ctx: CanvasRenderingContext2D, s: string, x: number, y: number, font: string, align: CanvasTextAlign = 'left', color = '#000') => {
  ctx.font = font;
  ctx.textAlign = align;
  ctx.textBaseline = 'middle';
  ctx.fillStyle = color;
  ctx.fillText(s, x, y);
};

const baseOptions = (w: number, h: number, left: number, top: number, right: number) => ({
  responsive: false,
  animation: false as const,
  devicePixelRatio: 1,
  events: [] as any[],
  layout: { autoPadding: false, padding: { top, right: w - right, left: 0, bottom: 0 } },
  plugins: { legend: { display: false }, tooltip: { enabled: false } },
});

// ---- panel A ----
const histConfig = (w: number, h: number) => ({
  type: 'bar',
  data: {
    datasets: [
      {
        type: 'line', data: [{ x: 0.1804, y: -137 }, { x: 0.1804, y: 3606 }], borderColor: '#ff0000', borderWidth: 8,
        pointRadius: 0, order: 1,
      },
      {
        type: 'line', data: xy(blueX, blueY), borderColor: '#0000ff', borderWidth: 2.2, pointRadius: 0,
        cubicInterpolationMode: 'monotone', order: 2,
      },
      {
        type: 'line', data: [{ x: 0.0315, y: -137 }, { x: 0.0315, y: 3558 }], borderColor: '#ff00ff', borderWidth: 4,
        borderDash: [0.1, 12.8], borderCapStyle: 'round', pointRadius: 0, order: 3,
      },
      {
        type: 'line', data: [{ x: 0.1118, y: -137 }, { x: 0.1118, y: 3558 }], borderColor: '#8a8a8a', borderWidth: 3.6,
        borderDash: [0.1, 12.8], borderCapStyle: 'round', pointRadius: 0, order: 3,
      },
      {
        type: 'line', data: xy(redX, redY), borderColor: '#ff0000', borderWidth: 2, borderDash: [7, 5], pointRadius: 0,
        cubicInterpolationMode: 'monotone', order: 4,
      },
      {
        type: 'line', data: xy(magentaX, magentaY), borderColor: '#ff00ff', borderWidth: 2, borderDash: [7, 5], pointRadius: 0,
        cubicInterpolationMode: 'monotone', order: 4,
      },
      {
        type: 'line', data: xy(grayX, grayY), borderColor: '#a9a9a9', borderWidth: 2, borderDash: [7, 7], pointRadius: 0,
        cubicInterpolationMode: 'monotone', order: 4,
      },
      {
        type: 'line', data: [{ x: 0.0302, y: 3444 }, { x: 0.0793, y: 3444 }], borderColor: 'rgba(150,60,60,0.27)', borderWidth: 15,
        pointRadius: 0, order: 5,
      },
      {
        type: 'line', data: [{ x: 0.0955, y: 3444 }, { x: 0.1926, y: 3444 }], borderColor: 'rgba(130,130,130,0.2)', borderWidth: 15,
        pointRadius: 0, order: 5,
      },
      {
        data: xy(histBins, histCounts), barPercentage: 1, categoryPercentage: 1, order: 9,
        backgroundColor: histBins.map((b) => (b > 0.185 ? '#14508c' : '#bbd4f0')),
        borderColor: histBins.map((b) => (b > 0.185 ? '#6d9fe6' : '#cde0f6')),
        borderWidth: 1,
      },
    ],
  },
  options: {
    ...baseOptions(w, h, 138, 50, 1040),
    scales: {
      x: {
        type: 'linear', min: -0.01132, max: 0.30778, offset: false,
        afterBuildTicks: (s: any) => { s.ticks = histXTicks.map((value) => ({ value })); },
        afterFit: (s: any) => { s.height = h - 862; },
        grid: { offset: false, drawOnChartArea: false, color: '#333', tickLength: 17, lineWidth: 1.6 },
        border: { display: false },
        ticks: { font: { family: FONT, size: 25 }, color: '#000', padding: 17, maxRotation: 0, autoSkip: false, callback: (v: any) => Number(v).toFixed(2) },
      },
      y: {
        type: 'linear', min: -137.6, max: 3676.2,
        afterBuildTicks: (s: any) => { s.ticks = histYTicks.map((value) => ({ value })); },
        afterFit: (s: any) => { s.width = 138; },
        grid: { drawOnChartArea: false, color: '#333', tickLength: 17, lineWidth: 1.6 },
        border: { display: false },
        ticks: { display: false },
      },
    },
  },
  plugins: [{
    id: 'histOverlay',
    afterDraw(chart: any) {
      const ctx = chart.ctx;
      const { x, y } = chart.scales;
      ctx.save();
      ctx.strokeStyle = '#333';
      ctx.lineWidth = 1.6;
      ctx.beginPath();
      ctx.moveTo(138, y.getPixelForValue(0));
      ctx.lineTo(138, y.getPixelForValue(3500));
      ctx.moveTo(x.getPixelForValue(0), 862);
      ctx.lineTo(x.getPixelForValue(0.3), 862);
      ctx.stroke();
      histYTicks.forEach((t) => {
        ctx.save();
        ctx.translate(90, y.getPixelForValue(t));
        ctx.rotate(-Math.PI / 2);
        text(ctx, String(t), 0, 0, `25px ${FONT}`, 'center');
        ctx.restore();
      });
      ctx.save();
      ctx.translate(30, 462);
      ctx.rotate(-Math.PI / 2);
      text(ctx, 'Frequency', 0, 0, `25px ${FONT}`, 'center');
      ctx.restore();
      text(ctx, 'AUC histogram', 583, 973, `25px ${FONT}`, 'center');
      text(ctx, 'PPAR', 583, 29, `bold 30px ${FONT}`, 'center');
      text(ctx, '(A)', 5, 28, `bold 40px ${FONT}`);
      text(ctx, 'AUC > 0.18', 701, 222, `21px ${FONT}`, 'left', '#a01818');
      text(ctx, '(3131 cells)', 701, 248, `21px ${FONT}`, 'left', '#a01818');
      ctx.restore();
    },
  }],
});

// ---- panel B ----
const toPoint = (p: number[]) => ({ x: p[0], y: p[1], auc: p[2] });

const umapConfig = (w: number, h: number) => ({
  type: 'scatter',
  data: {
    datasets: [
      { data: umapCells.map(toPoint), pointRadius: 3.5, pointBorderWidth: 0, backgroundColor: (c: any) => magma(c.raw ? c.raw.auc : 0), order: 1 },
      { data: umapCore.map(toPoint), pointRadius: 8.5, pointBorderWidth: 0, backgroundColor: (c: any) => magma(c.raw ? c.raw.auc : 0), order: 2 },
    ],
  },
  options: {
    ...baseOptions(w, h, 151.3, 81, 948.8),
    scales: {
      x: {
        type: 'linear', min: -17.126, max: 13.594,
        afterBuildTicks: (s: any) => { s.ticks = umapTicks.map((value) => ({ value })); },
        afterFit: (s: any) => { s.height = h - 877.5; },
        grid: { drawOnChartArea: false, color: '#333', tickLength: 7, lineWidth: 1.5 },
        border: { display: false },
        ticks: { font: { family: FONT, size: 28 }, color: '#000', padding: -1, maxRotation: 0, autoSkip: false, callback: (v: any) => String(v).replace('-', '−') },
      },
      y: {
        type: 'linear', min: -16.95, max: 18.69,
        afterBuildTicks: (s: any) => { s.ticks = umapTicks.map((value) => ({ value })); },
        afterFit: (s: any) => { s.width = 151.3; },
        grid: { drawOnChartArea: false, color: '#333', tickLength: 7, lineWidth: 1.5 },
        border: { display: false },
        ticks: { font: { family: FONT, size: 28 }, color: '#000', padding: 5, labelOffset: 2, autoSkip: false, callback: (v: any) => String(v).replace('-', '−') },
      },
    },
  },
  plugins: [{
    id: 'umapOverlay',
    afterDraw(chart: any) {
      const ctx = chart.ctx;
      const a = chart.chartArea;
      ctx.save();
      ctx.strokeStyle = '#111';
      ctx.lineWidth = 2;
      ctx.strokeRect(a.left, a.top, a.right - a.left, a.bottom - a.top);
      text(ctx, '(B)', 5, 30, `bold 40px ${FONT}`);
      text(ctx, 'UMAP_1', 550, 931, `28px ${FONT}`, 'center');
      ctx.save();
      ctx.translate(72, 478);
      ctx.rotate(-Math.PI / 2);
      text(ctx, 'UMAP_2', 0, 0, `28px ${FONT}`, 'center');
      ctx.restore();
      // AUC colour bar
      text(ctx, 'AUC', 983, 386, `22px ${FONT}`);
      const top = 407;
      const bottom = 582;
      const grad = ctx.createLinearGradient(0, bottom, 0, top);
      magmaStops.forEach((c, i) => grad.addColorStop(i / (magmaStops.length - 1), c));
      ctx.fillStyle = grad;
      ctx.fillRect(983, top, 35, bottom - top);
      ctx.strokeStyle = 'rgba(255,255,255,0.8)';
      ctx.lineWidth = 1.2;
      aucTicks.forEach((t) => {
        const py = bottom - (t / AUC_TOP) * (bottom - top);
        ctx.beginPath();
        ctx.moveTo(983, py);
        ctx.lineTo(990, py);
        ctx.moveTo(1011, py);
        ctx.lineTo(1018, py);
        ctx.stroke();
        text(ctx, t.toFixed(1), 1029, py + 1, `18px ${FONT}`);
      });
      ctx.restore();
    },
  }],
});

// ---- panels C / D ----
const dotRadius = (count: number, cMin: number, cMax: number, rMin: number, rMax: number) =>
  rMin + (rMax - rMin) * Math.sqrt(Math.max(count - cMin, 0) / (cMax - cMin));

interface DotSpec {
  id: string;
  title: string;
  tag: string;
  tagX: number;
  terms: string[][];
  ratio: number[];
  count: number[];
  pvals: number[];
  pTop: number;
  xTicks: number[];
  xLabeled: number[];
  xMin: number;
  xMax: number;
  left: number;
  right: number;
  xDigits: number;
  cMin: number;
  cMax: number;
  rMin: number;
  rMax: number;
  sizeLegend: number[];
  sizeY: number[];
  pTicks: number[];
  pLabels: string[];
  lgX: number;
  lgCountY: number;
  lgDotX: number;
  lgLabelX: number;
  pTitleY: number;
  barTop: number;
  barBottom: number;
  barW: number;
  pLabelX: number;
  xTitleX: number;
}

const dotConfig = (w: number, h: number, d: DotSpec) => ({
  type: 'scatter',
  data: {
    datasets: [{
      data: d.ratio.map((x, i) => ({ x, y: rowIndex[i] })),
      clip: 0,
      pointBorderWidth: 0,
      pointRadius: d.count.map((c) => dotRadius(c, d.cMin, d.cMax, d.rMin, d.rMax)),
      backgroundColor: d.pvals.map((p) => mix(P_LOW, P_HIGH, Math.min(p / d.pTop, 1))),
    }],
  },
  options: {
    ...baseOptions(w, h, d.left, 85, d.right),
    scales: {
      x: {
        type: 'linear', min: d.xMin, max: d.xMax,
        afterBuildTicks: (s: any) => { s.ticks = d.xTicks.map((value) => ({ value })); },
        afterFit: (s: any) => { s.height = h - 1313; },
        grid: {
          color: '#ebebeb', tickLength: 7, tickWidth: 1.5,
          lineWidth: (c: any) => (c.tick && d.xLabeled.includes(c.tick.value) ? 2.6 : 1.4),
          tickColor: (c: any) => (c.tick && d.xLabeled.includes(c.tick.value) ? '#333' : 'rgba(0,0,0,0)'),
        },
        border: { display: false },
        ticks: {
          font: { family: FONT, size: 28 }, color: '#000', padding: 0, maxRotation: 0, autoSkip: false,
          callback: (v: any) => (d.xLabeled.includes(v) ? Number(v).toFixed(d.xDigits) : ''),
        },
      },
      y: {
        type: 'linear', min: -0.6, max: 19.6, reverse: true,
        afterBuildTicks: (s: any) => { s.ticks = rowIndex.map((value) => ({ value })); },
        afterFit: (s: any) => { s.width = d.left; },
        grid: { color: '#ebebeb', lineWidth: 2.6, tickLength: 7, tickColor: '#333', tickWidth: 1.5 },
        border: { display: false },
        ticks: {
          font: { family: FONT, size: 28.4, lineHeight: 1.08 }, color: '#000', padding: 5, labelOffset: 2, autoSkip: false,
          callback: (v: any) => d.terms[v],
        },
      },
    },
  },
  plugins: [{
    id: `${d.id}Overlay`,
    afterDraw(chart: any) {
      const ctx = chart.ctx;
      const a = chart.chartArea;
      ctx.save();
      ctx.strokeStyle = '#444';
      ctx.lineWidth = 1.8;
      ctx.strokeRect(a.left, a.top, a.right - a.left, a.bottom - a.top);
      text(ctx, d.tag, d.tagX, 35, `bold 40px ${FONT}`);
      text(ctx, d.title, d.left, 56, `31px ${FONT}`);
      text(ctx, 'GeneRatio', d.xTitleX, 1370, `28.4px ${FONT}`, 'center');
      // size legend
      text(ctx, 'Count', d.lgX, d.lgCountY + 1.5, `26px ${FONT}`);
      d.sizeLegend.forEach((c, i) => {
        ctx.fillStyle = '#000';
        ctx.beginPath();
        ctx.arc(d.lgDotX, d.sizeY[i], dotRadius(c, d.cMin, d.cMax, d.rMin, d.rMax), 0, Math.PI * 2);
        ctx.fill();
        text(ctx, String(c), d.lgLabelX, d.sizeY[i] + 1.5, `21px ${FONT}`);
      });
      // p.adjust colour bar
      text(ctx, 'p.adjust', d.lgX, d.pTitleY + 1.5, `26px ${FONT}`);
      const grad = ctx.createLinearGradient(0, d.barBottom, 0, d.barTop);
      grad.addColorStop(0, P_LOW);
      grad.addColorStop(1, P_HIGH);
      ctx.fillStyle = grad;
      ctx.fillRect(d.lgX, d.barTop, d.barW, d.barBottom - d.barTop);
      ctx.strokeStyle = 'rgba(255,255,255,0.75)';
      ctx.lineWidth = 1.2;
      d.pTicks.forEach((t, i) => {
        const py = d.barBottom - (t / d.pTop) * (d.barBottom - d.barTop);
        ctx.beginPath();
        ctx.moveTo(d.lgX, py);
        ctx.lineTo(d.lgX + 8, py);
        ctx.moveTo(d.lgX + d.barW - 8, py);
        ctx.lineTo(d.lgX + d.barW, py);
        ctx.stroke();
        text(ctx, d.pLabels[i], d.pLabelX, py + 1.5, `21px ${FONT}`);
      });
      ctx.restore();
    },
  }],
});

const keggSpec: DotSpec = {
  id: 'kegg', title: 'KEGG Enrichment', tag: '(C)', tagX: 10, terms: keggTerms, ratio: keggRatio, count: keggCount, pvals: keggP, pTop: 5.73e-6,
  xTicks: keggXTicks, xLabeled: keggXLabeled, xMin: 0.01761, xMax: 0.10311, left: 475, right: 868, xDigits: 2,
  cMin: 20, cMax: 92, rMin: 9.5, rMax: 21.5, sizeLegend: keggSizeLegend, sizeY: [501.7, 543, 586, 634.5],
  pTicks: keggPTicks, pLabels: keggPLabels, lgX: 908, lgCountY: 456.5, lgDotX: 932.7, lgLabelX: 971, pTitleY: 725.5,
  barTop: 749.7, barBottom: 955, barW: 41, pLabelX: 962, xTitleX: 672,
};
const goSpec: DotSpec = {
  id: 'go', title: 'GO Enrichment', tag: '(D)', tagX: 4, terms: goTerms, ratio: goRatio, count: goCount, pvals: goP, pTop: 5.69e-11,
  xTicks: goXTicks, xLabeled: goXLabeled, xMin: 0.02134, xMax: 0.06641, left: 469, right: 889, xDigits: 2,
  cMin: 30, cMax: 84, rMin: 9.5, rMax: 20.7, sizeLegend: goSizeLegend, sizeY: [525, 566, 611],
  pTicks: goPTicks, pLabels: goPLabels, lgX: 929, lgCountY: 480, lgDotX: 953, lgLabelX: 989.5, pTitleY: 701,
  barTop: 725, barBottom: 930, barW: 40, pLabelX: 982.7, xTitleX: 679,
};

const Panel: React.FC<{ left: number; top: number; width: number; height: number; make: (w: number, h: number) => any }> = ({ left, top, width, height, make }) => {
  const ref = useRef<HTMLCanvasElement>(null);

  useEffect(() => {
    if (!ref.current) return;
    const chart = new Chart(ref.current, make(width, height));
    return () => chart.destroy();
  }, []);

  return <canvas ref={ref} width={width} height={height} style={{ position: 'absolute', left, top, width, height }} />;
};

export default function App() {
  return (
    <div style={{ position: 'absolute', left: 0, top: 0, width: 2128, height: 2391, background: '#fff', overflow: 'hidden' }}>
      <Panel left={0} top={0} width={1064} height={1000} make={histConfig} />
      <Panel left={1064} top={0} width={1064} height={1000} make={umapConfig} />
      <Panel left={0} top={1000} width={1064} height={1391} make={(w, h) => dotConfig(w, h, keggSpec)} />
      <Panel left={1064} top={1000} width={1064} height={1391} make={(w, h) => dotConfig(w, h, goSpec)} />
    </div>
  );
}
